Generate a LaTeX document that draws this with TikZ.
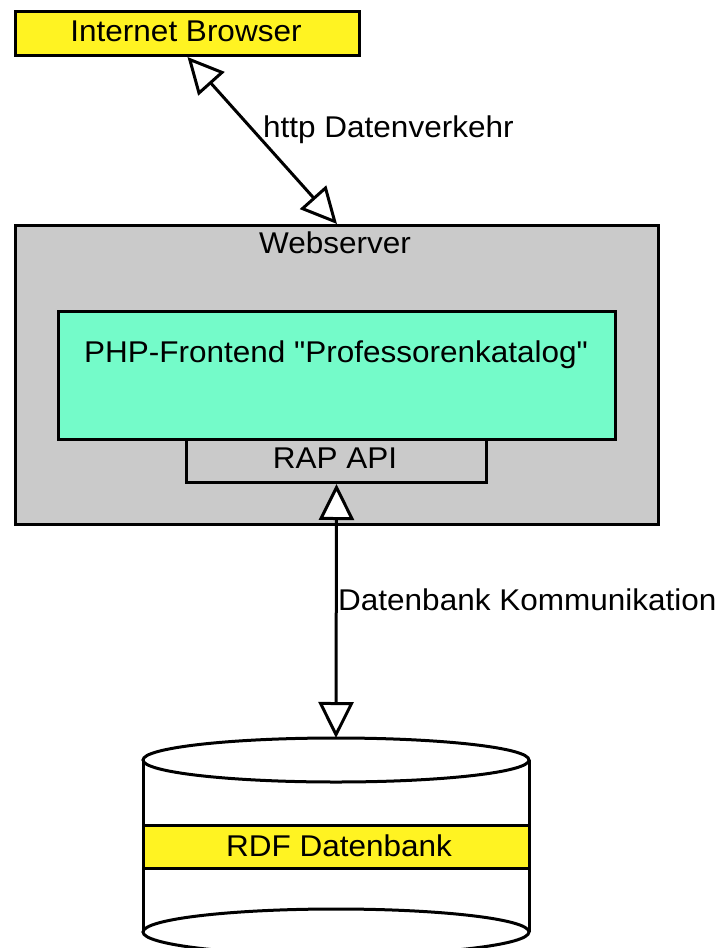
\documentclass[tikz,border=0pt]{standalone}
\usepackage{fontspec}
\newfontfamily\diagfont{Liberation Sans}[FakeStretch=1.05]
\usetikzlibrary{arrows.meta}
\definecolor{boxyellow}{RGB}{255,243,34}
\definecolor{boxteal}{RGB}{116,251,201}
\definecolor{boxgray}{RGB}{202,202,202}
\begin{document}
\begin{tikzpicture}[x=1pt,y=-1pt,
  every node/.style={font=\diagfont\fontsize{30}{36}\selectfont},
  frame/.style={draw=black,line width=3pt,rectangle,inner sep=0pt,anchor=north west},
  lbl/.style={anchor=base,inner sep=0pt},
  conn/.style={line width=3pt,{Triangle[length=36pt,width=35pt,fill=white]}-{Triangle[length=36pt,width=35pt,fill=white]}}
]
\useasboundingbox (0,0) rectangle (720,948);

% Internet Browser
\node[frame,fill=boxyellow,minimum width=344pt,minimum height=44pt] (browser) at (14,10) {};
\node[lbl] (browsertext) at (186,41) {Internet Browser};

% Webserver
\node[frame,fill=boxgray,minimum width=643pt,minimum height=299pt] (webserver) at (14,224) {};
\node[lbl] (webservertext) at (335,253) {Webserver};

% PHP frontend
\node[frame,fill=boxteal,minimum width=557pt,minimum height=128pt] (php) at (57,310) {};
\node[lbl] (phptext) at (336,362) {PHP-Frontend "Professorenkatalog"};

% RAP API
\node[frame,fill=boxgray,minimum width=300pt,minimum height=43pt] (rap) at (185,438) {};
\node[lbl] (raptext) at (335,468) {RAP API};

% Database cylinder
\fill[white] (143,760) -- (143,932) arc[start angle=180,end angle=360,x radius=193,y radius=23]
  -- (529,760) arc[start angle=0,end angle=180,x radius=193,y radius=22] -- cycle;
\fill[boxyellow] (143,825) rectangle (529,868);
\draw[line width=3pt] (143,825) -- (529,825) (143,868) -- (529,868);
\draw[line width=3pt] (143,760) -- (143,932) (529,760) -- (529,932);
\draw[line width=3pt] (336,760) ellipse[x radius=193,y radius=22];
\draw[line width=3pt] (336,932) ellipse[x radius=193,y radius=23];
\node[lbl] (dbtext) at (339,856) {RDF Datenbank};
\coordinate (dbtop) at (336,738);

% Connectors
\draw[conn] (browser.south) -- (webserver.north);
\node[anchor=base west,inner sep=0pt] (httplabel) at (263,137) {http Datenverkehr};

\draw[conn] (rap.south) -- (dbtop);
\node[anchor=base west,inner sep=0pt] (dblabel) at (338,610) {Datenbank Kommunikation};
\end{tikzpicture}
\end{document}
